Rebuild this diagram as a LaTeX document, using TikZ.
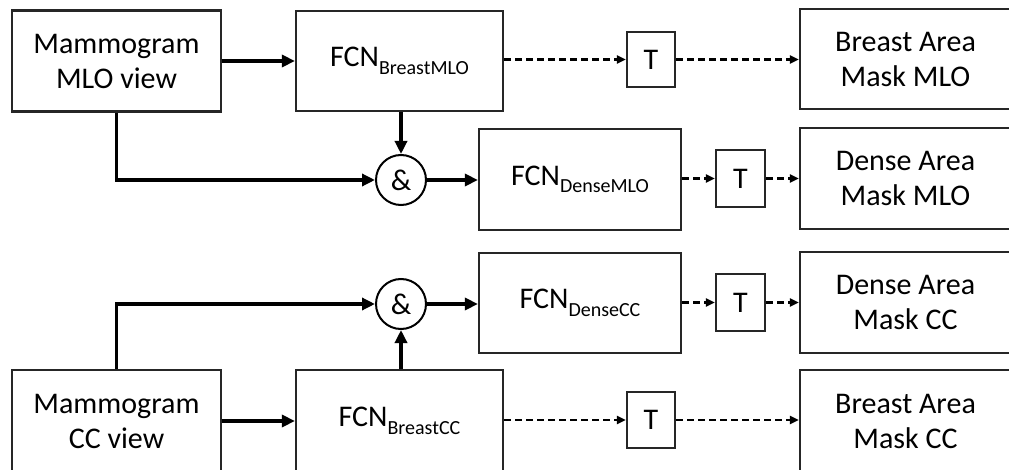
\documentclass[tikz,border=0pt]{standalone}
\usepackage{fontspec}
\setmainfont{Carlito}
\usetikzlibrary{arrows.meta}
\newcommand{\fcn}[1]{FCN\raisebox{-7.5pt}{\fontsize{20}{20}\selectfont #1}}
\tikzset{
  box/.style={draw=black!85, line width=2.2pt, rectangle, align=center, inner sep=0pt,
    font=\fontsize{30}{35}\selectfont},
  tbox/.style={draw=black!85, line width=2.2pt, rectangle, inner sep=0pt,
    font=\fontsize{30}{35}\selectfont},
  andnode/.style={draw=black, line width=2pt, circle, minimum size=50pt, inner sep=0pt,
    font=\fontsize{30}{35}\selectfont},
  solidarrow/.style={line width=3.6pt, -{Triangle[length=13pt,width=12pt]}},
  dasharrow/.style={line width=2.3pt, dash pattern=on 7pt off 4pt, -{Triangle[length=9pt,width=8pt]}},
}
\begin{document}
\begin{tikzpicture}[x=1pt,y=-1pt]
\useasboundingbox (0,0) rectangle (1009,470);
\clip (0,0) rectangle (1009,470);
\fill[white] (0,0) rectangle (1009,470);
% row 1
\node[box, minimum width=209pt, minimum height=101pt] (mlo) at (116.5,61) {Mammogram\\MLO view};
\node[box, minimum width=207pt, minimum height=100pt] (fbm) at (399.5,61) {\fcn{BreastMLO}};
\node[tbox, minimum width=48pt, minimum height=55pt] (t1) at (651,59.5) {T};
\node[box, minimum width=211pt, minimum height=100pt] (bam) at (905.5,59) {Breast Area\\Mask MLO};
% row 2
\node[andnode] (and1) at (401,180) {\&};
\node[box, minimum width=202pt, minimum height=101pt] (dm) at (580,179.5) {\fcn{DenseMLO}};
\node[tbox, minimum width=49pt, minimum height=57pt] (t2) at (740.5,178.5) {T};
\node[box, minimum width=211pt, minimum height=101pt] (dam) at (905.5,178.5) {Dense Area\\Mask MLO};
% row 3
\node[andnode] (and2) at (401,304) {\&};
\node[box, minimum width=202pt, minimum height=100pt] (dc) at (580,303) {\fcn{DenseCC}};
\node[tbox, minimum width=49pt, minimum height=57pt] (t3) at (740.5,302.5) {T};
\node[box, minimum width=211pt, minimum height=101pt] (dac) at (905.5,302.5) {Dense Area\\Mask CC};
% row 4
\node[box, minimum width=209pt, minimum height=102pt] (cc) at (116.5,421) {Mammogram\\CC view};
\node[box, minimum width=207pt, minimum height=102pt] (fbc) at (399.5,421) {\fcn{BreastCC}};
\node[tbox, minimum width=48pt, minimum height=56pt] (t4) at (651,420) {T};
\node[box, minimum width=211pt, minimum height=102pt] (bac) at (905.5,421) {Breast Area\\Mask CC};
% solid connectors
\draw[solidarrow] (mlo.east) -- (fbm.west);
\draw[solidarrow] (mlo.south) |- (and1.west);
\draw[solidarrow] (and1.north |- fbm.south) -- (and1.north);
\draw[solidarrow] (and1.east) -- (and1.east -| dm.west);
\draw[solidarrow] (cc.north) |- (and2.west);
\draw[solidarrow] (and2.south |- fbc.north) -- (and2.south);
\draw[solidarrow] (and2.east) -- (and2.east -| dc.west);
\draw[solidarrow] (cc.east) -- (fbc.west);
% dashed connectors
\draw[dasharrow] (t1.west -| fbm.east) -- (t1.west);
\draw[dasharrow] (t1.east) -- (t1.east -| bam.west);
\draw[dasharrow] (t2.west -| dm.east) -- (t2.west);
\draw[dasharrow] (t2.east) -- (t2.east -| dam.west);
\draw[dasharrow] (t3.west -| dc.east) -- (t3.west);
\draw[dasharrow] (t3.east) -- (t3.east -| dac.west);
\draw[dasharrow] (t4.west -| fbc.east) -- (t4.west);
\draw[dasharrow] (t4.east) -- (t4.east -| bac.west);
\end{tikzpicture}
\end{document}
